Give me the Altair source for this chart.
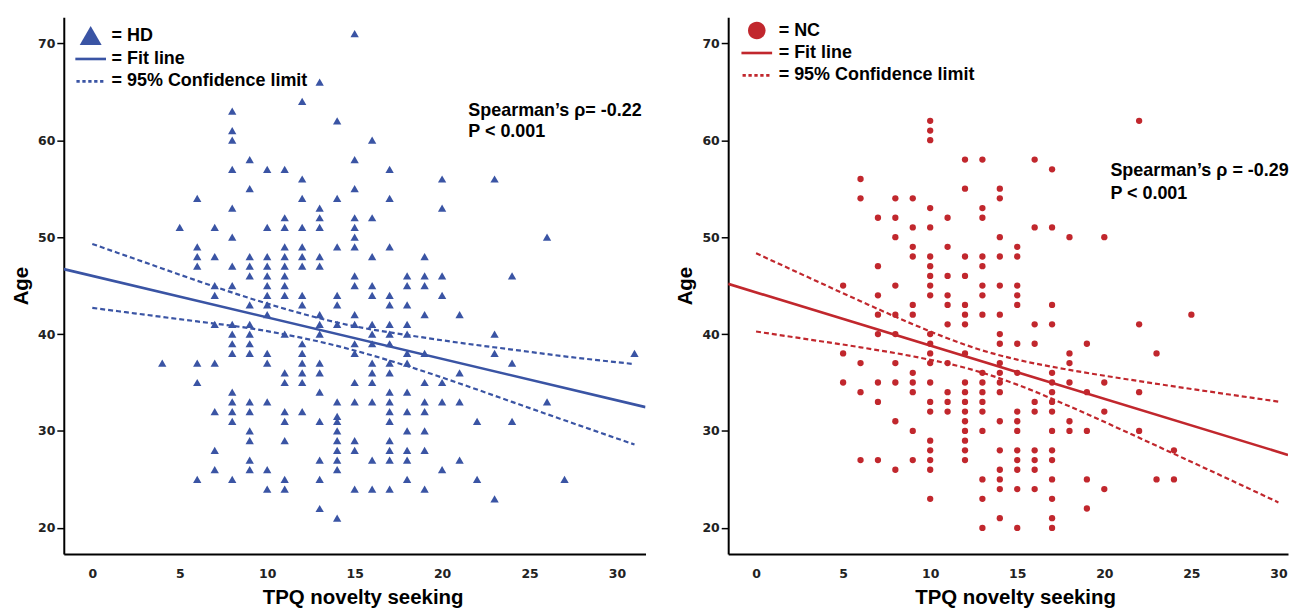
import altair as alt
import pandas as pd

BLUE = "#3a54a4"
RED = "#c1272d"

# ---------------- HD (left panel) ----------------
HD_SCORES = [4, 5, 6, 7, 8, 9, 10, 11, 12, 13, 14, 15, 16, 17, 18, 19, 20, 21, 22, 23, 24, 26, 27, 31]
HD_AGES = [
    [37],
    [51],
    [54, 49, 48, 47, 37, 35, 25],
    [51, 48, 45, 44, 41, 37, 32, 28, 26],
    [63, 61, 60, 57, 53, 50, 47, 45, 41, 40, 39, 38, 34, 33, 32, 31, 25],
    [58, 55, 48, 47, 46, 43, 41, 40, 39, 38, 33, 32, 30, 29, 27, 26],
    [57, 51, 48, 47, 46, 45, 44, 43, 42, 38, 37, 33, 26, 24],
    [57, 52, 51, 49, 48, 47, 46, 45, 44, 40, 36, 35, 32, 31, 29, 25, 24],
    [64, 56, 54, 51, 49, 48, 47, 44, 43, 39, 38, 37, 36, 35, 32],
    [66, 53, 52, 51, 48, 47, 42, 41, 40, 37, 36, 34, 31, 27, 25, 22],
    [62, 54, 49, 44, 43, 41, 33, 31.5, 31, 30, 29, 28, 27, 26, 21],
    [71, 58, 55, 52, 51, 50, 49, 46, 45, 42, 41, 39, 38, 35, 33, 29, 28, 24],
    [60, 52, 48, 45, 44, 41, 40, 39, 37, 36, 35, 33, 27, 24],
    [57, 54, 49, 44, 43, 41, 40, 39, 37, 36, 34, 33, 32, 31, 29, 28, 27, 24],
    [46, 45, 43, 41, 40, 38, 37, 34, 32, 30, 28, 27, 25],
    [48, 46, 45, 42, 38, 35, 33, 32, 30, 28, 24],
    [56, 53, 46, 44, 35, 33, 26],
    [42, 36, 33, 27],
    [31, 25],
    [56, 40, 38, 23],
    [46, 37, 31],
    [50, 33],
    [25],
    [38],
]
HD_FIT_X = [-1.63, 31.63]
HD_FIT_Y = [46.70, 32.46]
HD_CI_X = [0, 3, 6, 9, 12, 13.5, 15, 18, 21, 24, 27, 31]
HD_CI_UPPER = [49.3, 47.4, 45.5, 43.7, 42.1, 41.4, 40.8, 39.9, 39.1, 38.4, 37.7, 36.9]
HD_CI_LOWER = [42.7, 42.0, 41.3, 40.6, 39.6, 39.0, 38.3, 36.7, 34.9, 33.0, 31.1, 28.6]
HD_NOTE = ["Spearman\u2019s \u03c1= -0.22", "P < 0.001"]
HD_NOTE_X = [21.5, 21.5]
HD_NOTE_Y = [63.0, 60.8]
HD_KEYS = ["= HD", "= Fit line", "= 95% Confidence limit"]

# ---------------- NC (right panel) ----------------
NC_SCORES = [5, 6, 7, 8, 9, 10, 11, 12, 13, 14, 15, 16, 17, 18, 19, 20, 22, 23, 24, 25]
NC_AGES = [
    [45, 38, 35],
    [56, 54, 37, 34, 27],
    [52, 47, 44, 42, 40, 35, 33, 27],
    [54, 52, 50, 45, 42, 40, 37, 35, 31, 26],
    [54, 51, 49, 48, 43, 42, 36, 35, 34, 30, 27],
    [62, 61, 60, 53, 51, 48, 47, 46, 45, 44, 40, 39, 38, 37, 35, 33, 32, 29, 28, 27, 26, 23],
    [52, 49, 46, 44, 43, 41, 37, 34, 33, 32],
    [58, 55, 48, 46, 43, 42, 41, 38, 35, 34, 33, 32, 31, 30, 29, 28, 27],
    [58, 53, 52, 48, 47, 45, 44, 42, 36, 35, 34, 33, 32, 30, 25, 23, 20],
    [55, 54, 50, 48, 45, 42, 40, 39, 37, 36, 35, 34, 31, 28, 26, 25, 24, 21],
    [49, 48, 45, 44, 43, 39, 36, 32, 31, 30, 28, 27, 26, 24, 20],
    [58, 51, 41, 39, 33, 32, 28, 27, 26, 24],
    [57, 51, 43, 41, 36, 35, 34, 33, 32, 30, 28, 27, 25, 23, 21, 20],
    [50, 38, 37, 35, 31, 30],
    [39, 34, 30, 25, 22],
    [50, 35, 32, 24],
    [62, 41, 34, 30],
    [38, 25],
    [28, 25],
    [42],
]
NC_FIT_X = [-1.6, 30.55]
NC_FIT_Y = [45.18, 27.53]
NC_CI_X = [0, 3, 6, 9, 12, 13, 15, 18, 21, 24, 27, 30]
NC_CI_UPPER = [48.34, 45.85, 43.39, 41.02, 38.90, 38.31, 37.36, 36.30, 35.42, 34.60, 33.81, 33.03]
NC_CI_LOWER = [40.26, 39.45, 38.63, 37.70, 36.52, 36.01, 34.78, 32.54, 30.12, 27.64, 25.15, 22.63]
NC_NOTE = ["Spearman\u2019s \u03c1 = -0.29", "P < 0.001"]
NC_NOTE_X = [20.35, 20.35]
NC_NOTE_Y = [56.8, 54.5]
NC_KEYS = ["= NC", "= Fit line", "= 95% Confidence limit"]

X_TICKS = [0, 5, 10, 15, 20, 25, 30]
Y_TICKS = [20, 30, 40, 50, 60, 70]
Y_DOMAIN = [17.3, 72.7]


def bar_path(a, b, h=0.12):
    return f"M{a},{-h}L{b},{-h}L{b},{h}L{a},{h}Z"


# legend glyphs drawn as thin filled bars (solid line / dotted line)
LINE_PATH = bar_path(-1.4, 1.4)
DOT_PATH = "".join(bar_path(a, b) for a, b in
                   [(-1.3, -1.0), (-0.76, -0.46), (-0.22, 0.08), (0.32, 0.62), (0.86, 1.16)])
CIRCLE_PATH = "M0.8,0A0.8,0.8 0 1,1 -0.8,0A0.8,0.8 0 1,1 0.8,0Z"


def panel(scores, ages, color, mark_shape, mark_size, legend_shape, keys, key_field,
          fit_x, fit_y, ci_x, ci_u, ci_l, notes, note_x, note_y,
          x_domain, width, legend_x, legend_y, label_offset, title_x):
    rows = [(s, a) for s, col in zip(scores, ages) for a in col]
    pts = pd.DataFrame(rows, columns=["score", "age"])
    fit = pd.DataFrame({"score": fit_x, "age": fit_y})
    ci = pd.DataFrame({
        "score": list(ci_x) + list(ci_x),
        "age": list(ci_u) + list(ci_l),
        "bound": ["upper"] * len(ci_x) + ["lower"] * len(ci_x),
    })
    note = pd.DataFrame({"score": note_x, "age": note_y, "txt": notes})
    leg = pd.DataFrame({key_field: keys})

    xenc = alt.X("score:Q",
                 scale=alt.Scale(domain=x_domain, nice=False, zero=False),
                 axis=alt.Axis(values=X_TICKS, title="TPQ novelty seeking",
                               ticks=False, labelPadding=14, titlePadding=7,
                               titleX=title_x))
    yenc = alt.Y("age:Q",
                 scale=alt.Scale(domain=Y_DOMAIN, nice=False, zero=False),
                 axis=alt.Axis(values=Y_TICKS, title="Age", tickSize=7,
                               labelPadding=2, titlePadding=6))

    scatter = alt.Chart(pts).mark_point(
        shape=mark_shape, filled=True, size=mark_size, color=color, opacity=1
    ).encode(x=xenc, y=yenc)

    fit_line = alt.Chart(fit).mark_line(
        color=color, strokeWidth=2.6, clip=True
    ).encode(x="score:Q", y="age:Q")

    ci_lines = alt.Chart(ci).mark_line(
        color=color, strokeWidth=2.2, strokeDash=[5, 3], interpolate="monotone", clip=True
    ).encode(x="score:Q", y="age:Q", detail="bound:N")

    text = alt.Chart(note).mark_text(
        align="left", baseline="middle", font="Liberation Sans", fontSize=18,
        fontWeight="bold", color="black"
    ).encode(x="score:Q", y="age:Q", text="txt:N")

    legend_layer = alt.Chart(leg).mark_point(
        filled=True, color=color, opacity=1
    ).encode(
        shape=alt.Shape(
            f"{key_field}:N",
            scale=alt.Scale(domain=keys, range=[legend_shape, LINE_PATH, DOT_PATH]),
            legend=alt.Legend(
                title=None, orient="none", legendX=legend_x, legendY=legend_y,
                labelFont="Liberation Sans", labelFontSize=18, labelFontWeight="bold",
                labelColor="black", symbolSize=484, symbolFillColor=color,
                symbolStrokeWidth=0, symbolOpacity=1,
                rowPadding=2.5, padding=0, labelOffset=label_offset, labelLimit=400,
            ),
        )
    ).transform_filter("false")

    return alt.layer(scatter, ci_lines, fit_line, text, legend_layer).properties(
        width=width, height=539
    )


left = panel(HD_SCORES, HD_AGES, BLUE, "triangle-up", 70, "triangle-up", HD_KEYS, "key_hd",
             HD_FIT_X, HD_FIT_Y, HD_CI_X, HD_CI_UPPER, HD_CI_LOWER,
             HD_NOTE, HD_NOTE_X, HD_NOTE_Y, [-1.63, 31.63], 584, 16, 7.5, 10, 300)
right = panel(NC_SCORES, NC_AGES, RED, "circle", 40, CIRCLE_PATH, NC_KEYS, "key_nc",
              NC_FIT_X, NC_FIT_Y, NC_CI_X, NC_CI_UPPER, NC_CI_LOWER,
              NC_NOTE, NC_NOTE_X, NC_NOTE_Y, [-1.6, 30.55], 562, 17.7, 2.5, 11, 288)

chart = alt.hconcat(left, right, spacing=29).resolve_scale(
    x="independent", y="independent", shape="independent"
).properties(
    padding={"left": 3, "top": 7, "right": 0, "bottom": 0}
).configure_view(
    stroke="transparent"
).configure_axis(
    grid=False, domainColor="black", domainWidth=2, tickColor="black", tickWidth=1.5,
    labelFont="DejaVu Sans", labelFontSize=12.5, labelFontWeight="bold", labelColor="#222222",
    titleFont="Liberation Sans", titleFontSize=20.5, titleFontWeight="bold", titleColor="black",
)

chart.save("out.html", embed_options={"renderer": "svg", "actions": False})
